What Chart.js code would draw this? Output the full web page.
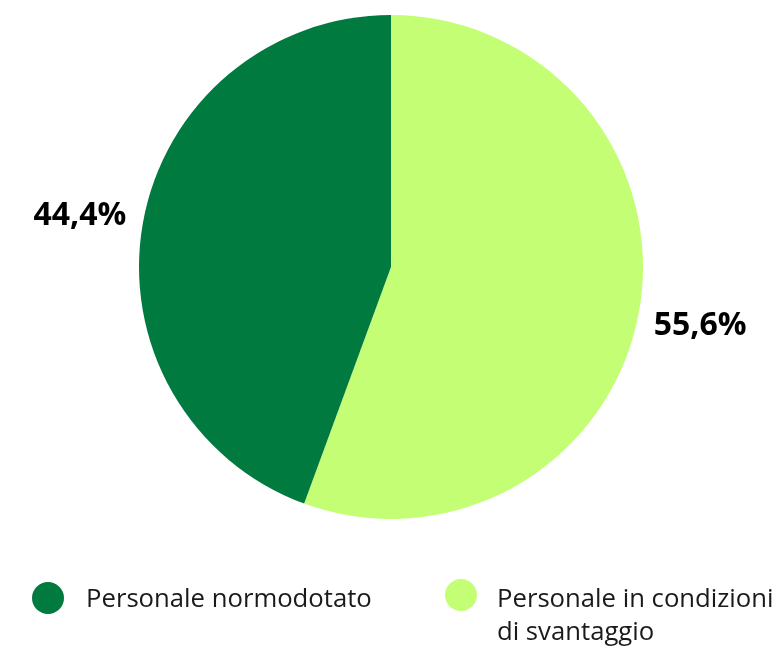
<!DOCTYPE html>
<html>
<head>
<meta charset="utf-8">
<script src="https://cdn.jsdelivr.net/npm/chart.js@4/dist/chart.umd.min.js"></script>
<style>
html, body { margin: 0; padding: 0; background: #fff; }
#wrap { width: 776px; height: 648px; position: relative; }
</style>
</head>
<body>
<div id="wrap"><canvas id="pieChart" width="776" height="648"></canvas></div>
<script>
// dati
var categories = ['Personale in condizioni di svantaggio', 'Personale normodotato'];
var values = [55.6, 44.4];
var valueLabels = ['55,6%', '44,4%'];
var colors = ['#c3fe74', '#007a3e'];

// legenda: ordine come nel grafico originale
var legendItems = [
    { lines: ['Personale normodotato'], color: '#007a3e' },
    { lines: ['Personale in condizioni', 'di svantaggio'], color: '#c3fe74' }
];

var FONT = '"Open Sans", "Noto Sans", sans-serif';

// etichette percentuali fuori dalla torta
var outsideLabels = {
    id: 'outsideLabels',
    afterDatasetsDraw: function (chart) {
        var ctx = chart.ctx;
        var meta = chart.getDatasetMeta(0);
        ctx.save();
        ctx.font = 'bold 32px ' + FONT;
        ctx.fillStyle = '#000';
        ctx.textAlign = 'center';
        ctx.textBaseline = 'middle';
        meta.data.forEach(function (arc, i) {
            var mid = (arc.startAngle + arc.endAngle) / 2;
            var r = arc.outerRadius + 63;
            ctx.fillText(valueLabels[i], arc.x + Math.cos(mid) * r - 1, arc.y + Math.sin(mid) * r + 4);
        });
        ctx.restore();
    }
};

// legenda disegnata a mano (due colonne, testo su più righe)
var customLegend = {
    id: 'customLegend',
    afterDraw: function (chart) {
        var ctx = chart.ctx;
        var cols = [{ cx: 48, tx: 86 }, { cx: 461, tx: 497 }];
        ctx.save();
        ctx.font = '25.7px ' + FONT;
        ctx.textAlign = 'left';
        ctx.textBaseline = 'alphabetic';
        legendItems.forEach(function (item, i) {
            var c = cols[i];
            ctx.beginPath();
            ctx.arc(c.cx, i === 0 ? 598 : 595, 16, 0, Math.PI * 2);
            ctx.fillStyle = item.color;
            ctx.fill();
            ctx.fillStyle = '#1a1a1a';
            item.lines.forEach(function (line, j) {
                ctx.fillText(line, c.tx, 607 + j * 33);
            });
        });
        ctx.restore();
    }
};

new Chart(document.getElementById('pieChart'), {
    type: 'pie',
    data: {
        labels: categories,
        datasets: [{
            data: values,
            backgroundColor: colors,
            borderWidth: 0
        }]
    },
    options: {
        responsive: false,
        animation: false,
        layout: { padding: { left: 139, right: 133, top: 15, bottom: 129 } },
        plugins: {
            legend: { display: false },
            tooltip: { enabled: false }
        }
    },
    plugins: [outsideLabels, customLegend]
});
</script>
</body>
</html>
